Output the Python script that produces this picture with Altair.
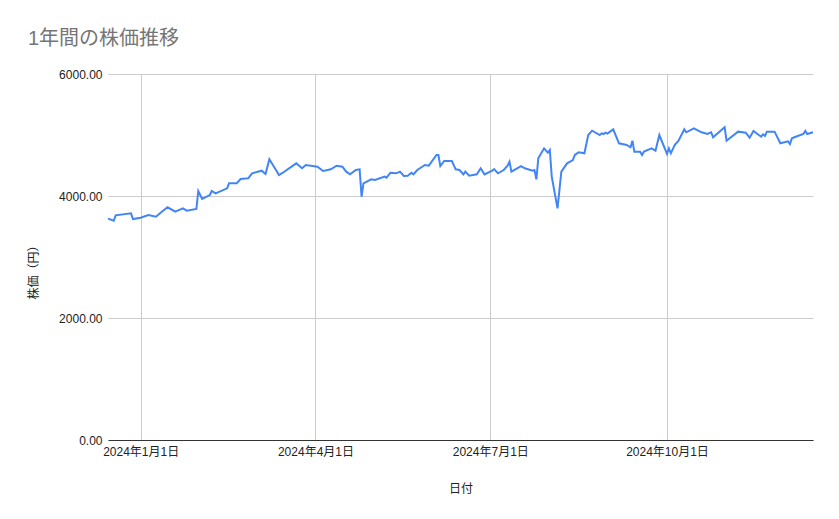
import altair as alt
import pandas as pd

dates = [
    "2023-12-15", "2023-12-18", "2023-12-19", "2023-12-27", "2023-12-28",
    "2024-01-01", "2024-01-05", "2024-01-09", "2024-01-12", "2024-01-15",
    "2024-01-19", "2024-01-23", "2024-01-25", "2024-01-30", "2024-01-31",
    "2024-02-02", "2024-02-06", "2024-02-07", "2024-02-09", "2024-02-15",
    "2024-02-16", "2024-02-20", "2024-02-22", "2024-02-26", "2024-02-28",
    "2024-03-04", "2024-03-06", "2024-03-08", "2024-03-12", "2024-03-13",
    "2024-03-15", "2024-03-22", "2024-03-25", "2024-03-27", "2024-04-02",
    "2024-04-05", "2024-04-09", "2024-04-12", "2024-04-15", "2024-04-17",
    "2024-04-19", "2024-04-22", "2024-04-24", "2024-04-25", "2024-04-26",
    "2024-04-30", "2024-05-02", "2024-05-07", "2024-05-08", "2024-05-10",
    "2024-05-13", "2024-05-15", "2024-05-17", "2024-05-19", "2024-05-21",
    "2024-05-22", "2024-05-24", "2024-05-28", "2024-05-30", "2024-06-03",
    "2024-06-04", "2024-06-05", "2024-06-07", "2024-06-11", "2024-06-13",
    "2024-06-15", "2024-06-17", "2024-06-18", "2024-06-20", "2024-06-24",
    "2024-06-26", "2024-06-28", "2024-07-02", "2024-07-03", "2024-07-05",
    "2024-07-08", "2024-07-10", "2024-07-11", "2024-07-12", "2024-07-17",
    "2024-07-19", "2024-07-23", "2024-07-24", "2024-07-25", "2024-07-26",
    "2024-07-29", "2024-07-31", "2024-08-01", "2024-08-02", "2024-08-05",
    "2024-08-07", "2024-08-10", "2024-08-13", "2024-08-14", "2024-08-16",
    "2024-08-19", "2024-08-21", "2024-08-23", "2024-08-27", "2024-08-28",
    "2024-08-29", "2024-08-30", "2024-08-31", "2024-09-03", "2024-09-06",
    "2024-09-10", "2024-09-12", "2024-09-13", "2024-09-14", "2024-09-17",
    "2024-09-18", "2024-09-19", "2024-09-23", "2024-09-25", "2024-09-27",
    "2024-10-01", "2024-10-02", "2024-10-03", "2024-10-05", "2024-10-07",
    "2024-10-10", "2024-10-11", "2024-10-15", "2024-10-19", "2024-10-22",
    "2024-10-24", "2024-10-25", "2024-10-31", "2024-11-01", "2024-11-07",
    "2024-11-11", "2024-11-13", "2024-11-15", "2024-11-19", "2024-11-20",
    "2024-11-21", "2024-11-22", "2024-11-26", "2024-11-29", "2024-12-03",
    "2024-12-04", "2024-12-05", "2024-12-07", "2024-12-11", "2024-12-12",
    "2024-12-13", "2024-12-16",
]

prices = [
    3630, 3595, 3683, 3716, 3623,
    3645, 3689, 3661, 3743, 3815,
    3743, 3798, 3759, 3787, 4082,
    3951, 4016, 4082, 4044, 4126,
    4208, 4208, 4279, 4290, 4372,
    4415, 4361, 4601, 4399, 4344,
    4382, 4535, 4454, 4508, 4481,
    4410, 4437, 4497, 4481, 4399,
    4355, 4426, 4437, 3989, 4208,
    4273, 4262, 4317, 4301, 4382,
    4372, 4399, 4328, 4333, 4382,
    4355, 4426, 4508, 4497, 4672,
    4672, 4491, 4574, 4574, 4437,
    4426, 4355, 4399, 4333, 4355,
    4454, 4355, 4415, 4442, 4372,
    4426, 4497, 4563, 4399, 4491,
    4454, 4415, 4426, 4273, 4618,
    4781, 4710, 4754, 4317, 3798,
    4399, 4535, 4590, 4672, 4716,
    4700, 5000, 5071, 5000, 5027,
    5016, 5038, 5022, 5093, 4864,
    4836, 4798, 4907, 4727, 4727,
    4672, 4727, 4781, 4743, 5000,
    4689, 4781, 4700, 4836, 4907,
    5093, 5044, 5109, 5044, 5016,
    5044, 4962, 5126, 4907, 5055,
    5038, 4956, 5066, 4972, 5011,
    4984, 5055, 5055, 4864, 4896,
    4852, 4945, 4972, 5016, 5066,
    5016, 5044,
]

y_ticks = [0, 2000, 4000, 6000]

df = pd.DataFrame({"日付": [d + "T00:00:00" for d in dates], "株価": prices})

FONT = "Liberation Sans, Noto Sans CJK JP, sans-serif"

x_vals = [
    alt.DateTime(year=2024, month=1, date=1),
    alt.DateTime(year=2024, month=4, date=1),
    alt.DateTime(year=2024, month=7, date=1),
    alt.DateTime(year=2024, month=10, date=1),
]

chart = (
    alt.Chart(df)
    .mark_line(color="#4285F4", strokeWidth=2)
    .encode(
        x=alt.X(
            "日付:T",
            scale=alt.Scale(nice=False),
            axis=alt.Axis(
                title="日付",
                values=x_vals,
                format="%Y年%-m月%-d日",
                labelFontSize=12,
                labelColor="#222222",
                labelPadding=6,
                labelFont=FONT,
                ticks=False,
                domainColor="#333333",
                gridColor="#cccccc",
                titleFont=FONT,
                titleFontSize=12,
                titleFontWeight="normal",
                titleColor="#222222",
                titleY=48,
                titleBaseline="middle",
            ),
        ),
        y=alt.Y(
            "株価:Q",
            scale=alt.Scale(domain=[0, 6000], nice=False),
            axis=alt.Axis(
                title="株価（円）",
                values=y_ticks,
                format=".2f",
                labelFontSize=12,
                labelColor="#222222",
                labelPadding=6,
                labelFont=FONT,
                ticks=False,
                domain=False,
                gridColor="#cccccc",
                titleFont=FONT,
                titleFontSize=12,
                titleFontWeight="normal",
                titleColor="#222222",
                titleX=-75,
                titleY=195,
                titleBaseline="middle",
            ),
        ),
    )
    .properties(
        width=705,
        height=366,
        background="white",
        autosize=alt.AutoSizeParams(type="none"),
        padding={"left": 100, "top": 66, "right": 10, "bottom": 60},
        title=alt.TitleParams(
            "1年間の株価推移",
            anchor="start",
            frame="group",
            dx=-80,
            dy=-5,
            fontSize=20,
            fontWeight="normal",
            color="#757575",
            font=FONT,
            offset=14,
        ),
    )
    .configure_view(stroke="transparent", strokeWidth=0)
)

chart.save("out.html", embed_options={"renderer": "svg", "actions": False})
